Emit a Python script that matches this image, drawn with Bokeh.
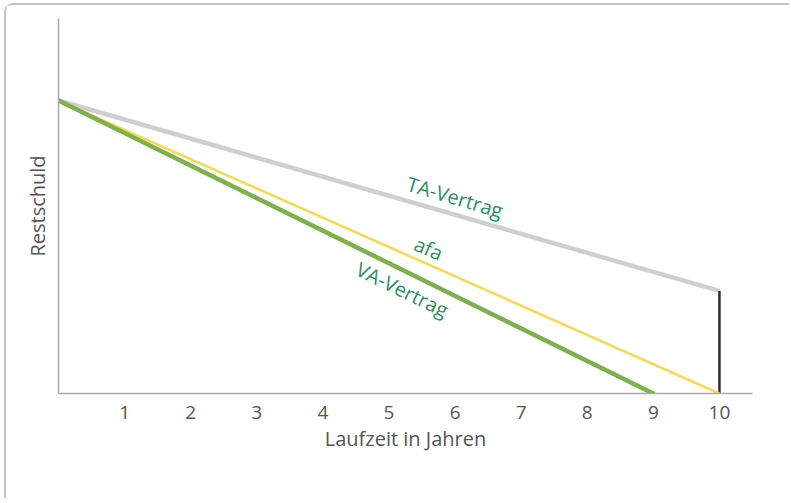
from bokeh.plotting import figure
from bokeh.models import Range1d, FixedTicker
from bokeh.core.properties import value
from bokeh.embed import file_html
from bokeh.resources import INLINE

# --- data ---
years = [1, 2, 3, 4, 5, 6, 7, 8, 9, 10]
ta_x = [0, 10]
ta_y = [100, 35]          # TA-Vertrag Restschuld
afa_x = [0, 10]
afa_y = [100, 0]          # afa
va_x = [0, 9]
va_y = [100, 0]           # VA-Vertrag
gap_x = [10, 10]
gap_y = [0, 35]           # remaining debt at end of TA-Vertrag

labels = ["TA-Vertrag", "afa", "VA-Vertrag"]

FONT = "Open Sans"
TXT = "#555555"
LBL = "#279261"

p = figure(width=785, height=495, output_backend="svg", toolbar_location=None,
           x_range=Range1d(0, 10.5), y_range=Range1d(0, 128),
           min_border_left=52, min_border_right=39, min_border_top=13,
           min_border_bottom=107)
p.outline_line_color = None
p.grid.visible = False
p.background_fill_color = "white"
p.border_fill_color = "white"
# card border (extends past right/bottom edge like the reference)
p.styles = {"border-left": "2px solid #c4c4c4", "border-top": "2px solid #c4c4c4",
            "border-top-left-radius": "9px", "margin-left": "4px",
            "margin-top": "3px"}

# lines
p.line(ta_x, ta_y, line_color="#cfcfcf", line_width=4.5)
p.line(gap_x, gap_y, line_color="#2b2b2b", line_width=2.5)
p.line(afa_x, afa_y, line_color="#f6d94e", line_width=2.5)
p.line(va_x, va_y, line_color="#7cb24a", line_width=4.5, line_cap="round")

# line labels
p.text(x=[6.0], y=[67.0], text=[labels[0]], angle=[-16.5], angle_units="deg",
       text_align="center", text_baseline="middle", text_color=LBL,
       text_font=value(FONT), text_font_size="20px")
p.text(x=[5.6], y=[49.5], text=[labels[1]], angle=[-23], angle_units="deg",
       text_align="center", text_baseline="middle", text_color=LBL,
       text_font=value(FONT), text_font_size="20px")
p.text(x=[5.2], y=[35.5], text=[labels[2]], angle=[-26], angle_units="deg",
       text_align="center", text_baseline="middle", text_color=LBL,
       text_font=value(FONT), text_font_size="20px")

# axes
xa = p.xaxis[0]
xa.ticker = FixedTicker(ticks=years)
xa.axis_line_color = "#aaaaaa"
xa.axis_line_width = 1.5
xa.major_tick_line_color = None
xa.minor_tick_line_color = None
xa.major_tick_out = 0
xa.major_label_standoff = 12
xa.major_label_text_font = FONT
xa.major_label_text_font_size = "19px"
xa.major_label_text_color = TXT
xa.axis_label = "Laufzeit in Jahren"
xa.axis_label_text_font = FONT
xa.axis_label_text_font_size = "20px"
xa.axis_label_text_font_style = "normal"
xa.axis_label_text_color = TXT
xa.axis_label_standoff = 3

ya = p.yaxis[0]
ya.ticker = FixedTicker(ticks=[])
ya.axis_line_color = "#aaaaaa"
ya.axis_line_width = 1.5
ya.major_tick_line_color = None
ya.minor_tick_line_color = None
ya.major_tick_out = 0
ya.major_label_text_font_size = "0px"
ya.axis_label = "Restschuld"
ya.axis_label_text_font = FONT
ya.axis_label_text_font_size = "20px"
ya.axis_label_text_font_style = "normal"
ya.axis_label_text_color = TXT
ya.axis_label_standoff = 8

open("out.html", "w").write(file_html(p, INLINE))
